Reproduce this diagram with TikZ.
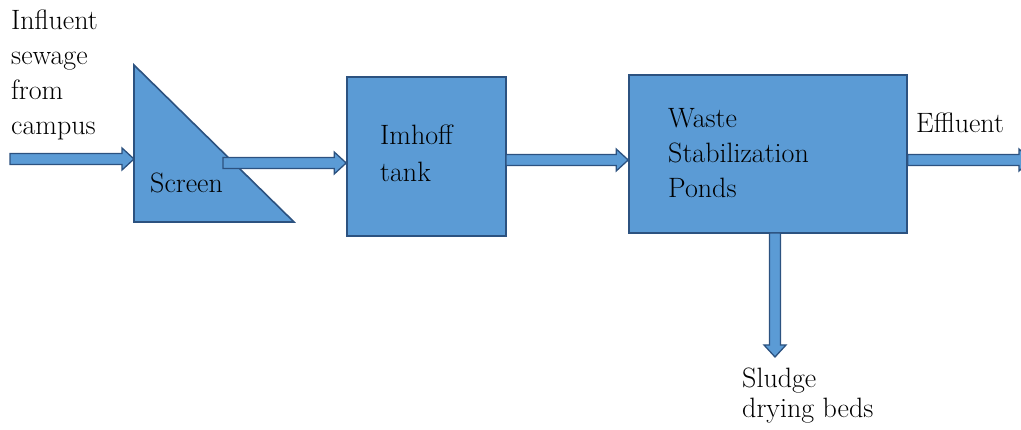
\documentclass[tikz,border=0pt]{standalone}
\usetikzlibrary{calc}

\definecolor{unitfill}{RGB}{91,155,213}
\definecolor{unitline}{RGB}{44,82,128}

\tikzset{
	unit/.style={draw=unitline, fill=unitfill, line width=1.6pt, inner sep=0pt},
	flowarrow/.style={draw=unitline, fill=unitfill, line width=1.3pt, line join=miter},
	plaintext/.style={anchor=base west, inner sep=0pt, align=left, font=\fontsize{28}{35}\selectfont},
}

% block arrow from #1 to #2 (shaft 11pt, head 22pt x 12pt)
\newcommand{\fatarrow}[2]{%
	\coordinate (head) at ($(#2)!12pt!(#1)$);
	\filldraw[flowarrow] ($(#1)!5.5pt!90:(#2)$) -- ($(head)!5.5pt!-90:(#1)$) -- ($(head)!11pt!-90:(#1)$)
		-- (#2) -- ($(head)!11pt!90:(#1)$) -- ($(head)!5.5pt!90:(#1)$) -- ($(#1)!5.5pt!-90:(#2)$) -- cycle;
}

\begin{document}
\begin{tikzpicture}[x=1pt, y=-1pt]
	\useasboundingbox (0,0) rectangle (1021,430);

	% units
	\filldraw[unit] (134,65) -- (134,222) -- (294,222) -- cycle;
	\node[unit, minimum width=159pt, minimum height=159pt] (imhoff) at (426.5,156.5) {};
	\node[unit, minimum width=278pt, minimum height=158pt] (ponds) at (768,154) {};

	% texts (anchored at the baseline of the last line)
	\node[plaintext] (influent) at (11,135) {Influent\\sewage\\from\\campus};
	\node[plaintext] (screen) at (150,193) {Screen};
	\node[plaintext, font=\fontsize{28}{37}\selectfont] (imhofflabel) at (380,182) {Imhoff\\tank};
	\node[plaintext] (pondslabel) at (668,198) {Waste\\Stabilization\\Ponds};
	\node[plaintext] (effluent) at (916,133) {Effluent};
	\node[plaintext, font=\fontsize{28}{30}\selectfont] (sludge) at (742,418) {Sludge\\drying beds};

	% flow
	\coordinate (inlet) at (10,159);
	\coordinate (screenin) at (134,159);
	\coordinate (screenout) at (223,163);
	\coordinate (imhoffin) at (imhoff.west |- screenout);
	\coordinate (imhoffout) at (506,160);
	\coordinate (pondsin) at (ponds.west |- imhoffout);
	\coordinate (pondsout) at (ponds.east |- imhoffout);
	\coordinate (outlet) at (1031,160);
	\coordinate (sludgeout) at (775,233);
	\coordinate (beds) at (775,357);
	\fatarrow{inlet}{screenin}
	\fatarrow{screenout}{imhoffin}
	\fatarrow{imhoffout}{pondsin}
	\fatarrow{pondsout}{outlet}
	\fatarrow{sludgeout}{beds}
\end{tikzpicture}
\end{document}
